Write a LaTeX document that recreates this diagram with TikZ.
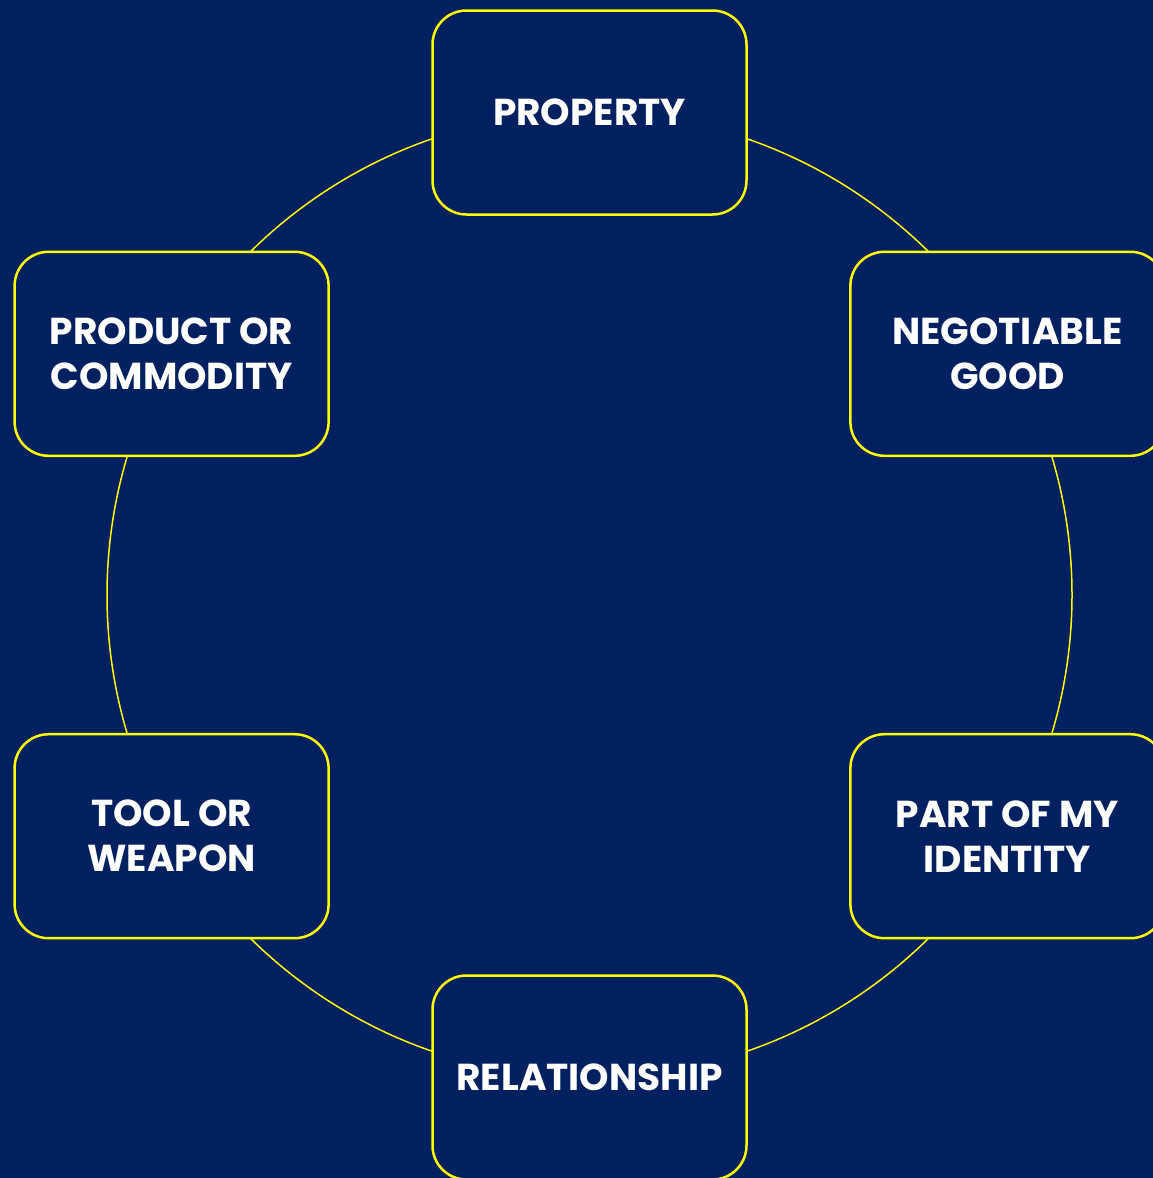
\documentclass[tikz,border=0pt]{standalone}
\usepackage{fontspec}
\setmainfont{Poppins}
\definecolor{navy}{HTML}{002060}
\definecolor{ylw}{HTML}{FFFF00}
\begin{document}
\begin{tikzpicture}[x=1pt,y=-1pt,
  box/.style={draw=ylw, line width=2.5pt, fill=navy, rounded corners=34pt,
    minimum width=314pt, minimum height=204pt, inner sep=0pt,
    text=white, font=\bfseries\fontsize{37.5}{45}\selectfont, align=center},
  ring/.style={draw=ylw, line width=1.5pt}]
\clip (0,0) rectangle (1153,1178);
\fill[navy] (0,0) rectangle (1153,1178);
\coordinate (c) at (589.5,595);
\draw[ring] (c) circle[radius=482.5];
\node[box] (property) at (589.5,112.5) {PROPERTY};
\node[box] (negotiable) at (1007.4,353.8) {NEGOTIABLE\\GOOD};
\node[box] (identity) at (1007.4,836.2) {PART OF MY\\IDENTITY};
\node[box] (relationship) at (589.5,1077.5) {RELATIONSHIP};
\node[box] (tool) at (171.6,836.2) {TOOL OR\\WEAPON};
\node[box] (product) at (171.6,353.8) {PRODUCT OR\\COMMODITY};
\end{tikzpicture}
\end{document}
